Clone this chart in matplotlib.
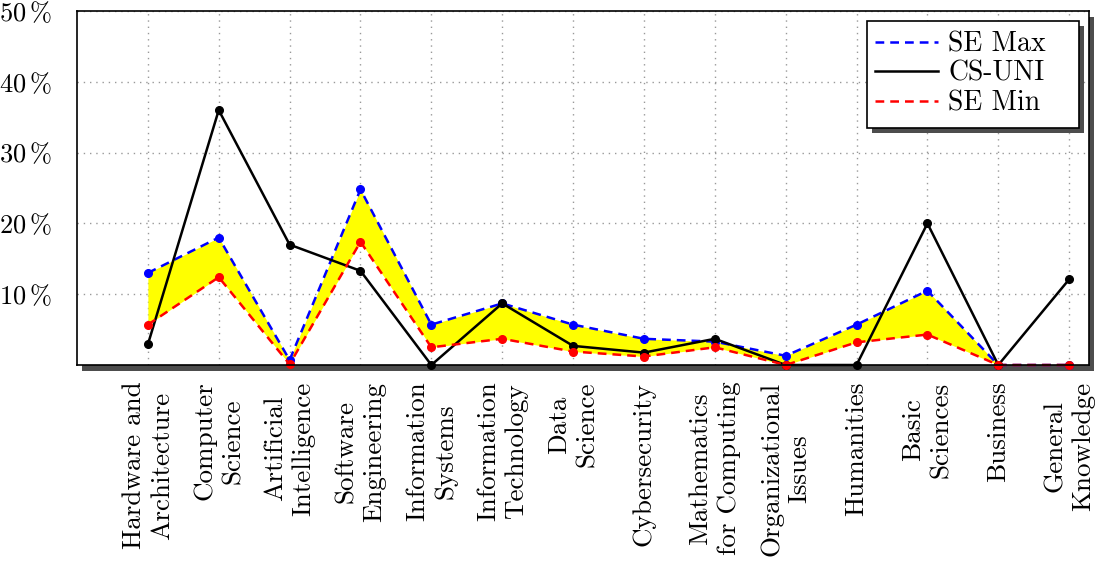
import matplotlib
matplotlib.use("Agg")
import matplotlib.pyplot as plt
from matplotlib.patches import Rectangle

categories = ["Hardware and\nArchitecture", "Computer\nScience", "Artificial\nIntelligence",
              "Software\nEngineering", "Information\nSystems", "Information\nTechnology",
              "Data\nScience", "Cybersecurity", "Mathematics\nfor Computing",
              "Organizational\nIssues", "Humanities", "Basic\nSciences", "Business",
              "General\nKnowledge"]
se_max = [13.0, 18.0, 0.7, 24.8, 5.7, 8.7, 5.7, 3.7, 3.3, 1.3, 5.7, 10.5, 0.0, 0.0]
cs_uni = [2.9, 36.0, 17.0, 13.3, 0.0, 8.7, 2.7, 1.75, 3.7, 0.0, 0.0, 20.0, 0.0, 12.1]
se_min = [5.7, 12.4, 0.1, 17.4, 2.5, 3.7, 1.9, 1.2, 2.5, 0.0, 3.2, 4.3, 0.0, 0.0]
yticks = [10, 20, 30, 40, 50]
ytick_labels = [r"$%d\,\%%$" % v for v in yticks]

plt.rcParams["mathtext.fontset"] = "cm"
plt.rcParams["axes.formatter.use_mathtext"] = True

W, H = 1097, 561
fig = plt.figure(figsize=(W / 100, H / 100), dpi=100)
ax = fig.add_axes([77 / W, 1 - 365 / H, (1089 - 77) / W, (365 - 11) / H])

x = list(range(len(categories)))

# frame shadow
fig.patches.append(Rectangle((82 / W, 1 - 371 / H), (1089 - 77) / W, (365 - 11) / H,
                             transform=fig.transFigure, facecolor="#4d4d4d",
                             edgecolor="none", zorder=-10))
ax.set_facecolor("white")

ax.fill_between(x, se_min, se_max, color="#ffff00", linewidth=0, zorder=2)
dash = (0, (3.5, 2.4))
ax.plot(x, se_max, color="#0000ff", linestyle=dash, linewidth=1.8, marker="o",
        markersize=5.5, label="SE Max", zorder=3, clip_on=False)
ax.plot(x, cs_uni, color="black", linestyle="-", linewidth=1.8, marker="o",
        markersize=5.5, label="CS-UNI", zorder=4, clip_on=False)
ax.plot(x, se_min, color="#ff0000", linestyle=dash, linewidth=1.8, marker="o",
        markersize=5.5, label="SE Min", zorder=5, clip_on=False)

ax.set_xlim(-1, 13.28)
ax.set_ylim(0, 50)
ax.set_xticks(x)
ax.set_xticklabels(categories, rotation=90, family="cmr10", fontsize=19.5,
                   ha="center", va="top", multialignment="center", linespacing=1.25)
ax.set_yticks(yticks)
ax.set_yticklabels(ytick_labels, fontsize=19)
ax.tick_params(axis="x", length=0, pad=12)
ax.tick_params(axis="y", length=0, pad=18)
ax.grid(True, color="#999999", linestyle=(0, (1, 3.5)), linewidth=1.0, zorder=1)
ax.set_axisbelow(True)
for s in ax.spines.values():
    s.set_linewidth(1.2)
    s.set_color("black")
    s.set_zorder(6)

# legend box (manual frame + shadow)
lx0, lx1, ly0, ly1 = 867, 1079, 21, 128
fig.patches.append(Rectangle(((lx0 + 5) / W, 1 - (ly1 + 5) / H), (lx1 - lx0) / W,
                             (ly1 - ly0) / H, transform=fig.transFigure,
                             facecolor="#4d4d4d", edgecolor="none", zorder=8))
fig.patches.append(Rectangle((lx0 / W, 1 - ly1 / H), (lx1 - lx0) / W, (ly1 - ly0) / H,
                             transform=fig.transFigure, facecolor="white",
                             edgecolor="black", linewidth=1.2, zorder=9))
handles = [plt.Line2D([], [], color="#0000ff", linestyle=dash, linewidth=1.8),
           plt.Line2D([], [], color="black", linestyle="-", linewidth=1.8),
           plt.Line2D([], [], color="#ff0000", linestyle=dash, linewidth=1.8)]
leg = fig.legend(handles, ["SE Max", "CS-UNI", "SE Min"], loc="upper left",
                 bbox_to_anchor=(875 / W, 1 - 31 / H), frameon=False,
                 prop={"family": "cmr10", "size": 20},
                 handlelength=2.27, handletextpad=0.36, borderpad=0,
                 labelspacing=0.12, borderaxespad=0)
leg.set_zorder(10)

fig.savefig("out.png", dpi=100)
